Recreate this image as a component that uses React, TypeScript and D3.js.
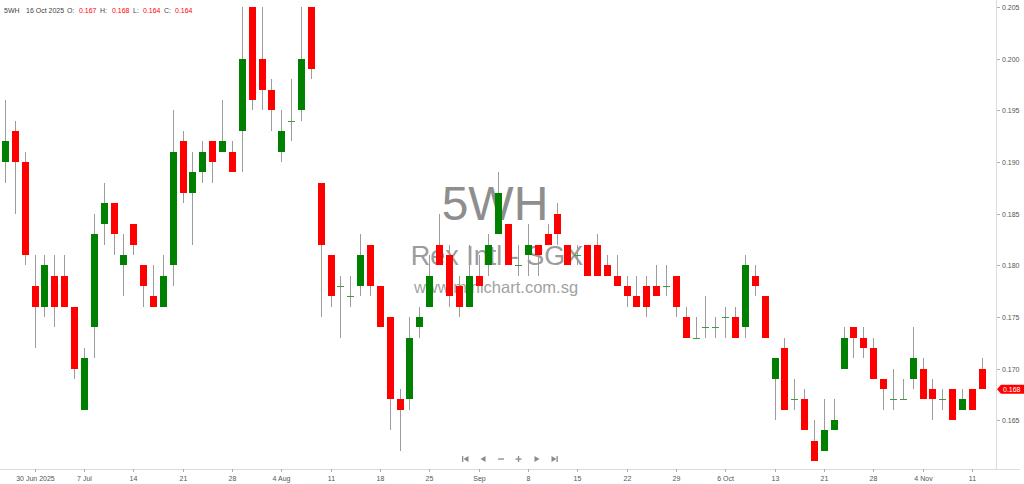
import React from "react";
import * as d3 from "d3";

const dates: string[] = [
  "2025-06-25", "2025-06-26", "2025-06-27", "2025-06-30",
  "2025-07-01", "2025-07-02", "2025-07-03", "2025-07-04",
  "2025-07-07", "2025-07-08", "2025-07-09", "2025-07-10", "2025-07-11",
  "2025-07-14", "2025-07-15", "2025-07-16", "2025-07-17", "2025-07-18",
  "2025-07-21", "2025-07-22", "2025-07-23", "2025-07-24", "2025-07-25",
  "2025-07-28", "2025-07-29", "2025-07-30", "2025-07-31", "2025-08-01",
  "2025-08-04", "2025-08-05", "2025-08-06", "2025-08-07", "2025-08-08",
  "2025-08-11", "2025-08-12", "2025-08-13", "2025-08-14", "2025-08-15",
  "2025-08-18", "2025-08-19", "2025-08-20", "2025-08-21", "2025-08-22",
  "2025-08-25", "2025-08-26", "2025-08-27", "2025-08-28", "2025-08-29",
  "2025-09-01", "2025-09-02", "2025-09-03", "2025-09-04", "2025-09-05",
  "2025-09-08", "2025-09-09", "2025-09-10", "2025-09-11", "2025-09-12",
  "2025-09-15", "2025-09-16", "2025-09-17", "2025-09-18", "2025-09-19",
  "2025-09-22", "2025-09-23", "2025-09-24", "2025-09-25", "2025-09-26",
  "2025-09-29", "2025-09-30", "2025-10-01", "2025-10-02", "2025-10-03",
  "2025-10-06", "2025-10-07", "2025-10-08", "2025-10-09", "2025-10-10",
  "2025-10-13", "2025-10-14", "2025-10-15", "2025-10-16", "2025-10-17",
  "2025-10-21", "2025-10-22", "2025-10-23", "2025-10-24",
  "2025-10-27", "2025-10-28", "2025-10-29", "2025-10-30", "2025-10-31",
  "2025-11-03", "2025-11-04", "2025-11-05", "2025-11-06", "2025-11-07",
  "2025-11-10", "2025-11-11", "2025-11-12",
];

const opens: number[] = [
  0.190, 0.193, 0.190, 0.178, 0.176, 0.179, 0.179, 0.176, 0.166, 0.174,
  0.184, 0.186, 0.180, 0.184, 0.180, 0.177, 0.176, 0.180, 0.192, 0.187,
  0.189, 0.192, 0.191, 0.191, 0.193, 0.207, 0.200, 0.197, 0.191, 0.194,
  0.195, 0.208, 0.188, 0.181, 0.178, 0.177, 0.178, 0.182, 0.178, 0.175,
  0.167, 0.167, 0.174, 0.176, 0.182, 0.181, 0.178, 0.176, 0.179, 0.180,
  0.183, 0.184, 0.180, 0.181, 0.182, 0.183, 0.185, 0.182, 0.181, 0.182,
  0.182, 0.180, 0.179, 0.178, 0.177, 0.178, 0.178, 0.178, 0.179, 0.175,
  0.173, 0.174, 0.174, 0.175, 0.175, 0.174, 0.179, 0.177, 0.169, 0.172,
  0.167, 0.167, 0.163, 0.162, 0.164, 0.170, 0.174, 0.173, 0.172, 0.169,
  0.167, 0.167, 0.169, 0.170, 0.168, 0.167, 0.168, 0.166, 0.168, 0.170,
];
const highs: number[] = [
  0.196, 0.194, 0.191, 0.181, 0.181, 0.181, 0.181, 0.176, 0.172, 0.185,
  0.188, 0.186, 0.183, 0.184, 0.180, 0.180, 0.181, 0.195, 0.193, 0.191,
  0.192, 0.192, 0.196, 0.192, 0.207, 0.208, 0.207, 0.198, 0.195, 0.198,
  0.207, 0.209, 0.188, 0.181, 0.179, 0.179, 0.183, 0.182, 0.178, 0.175,
  0.168, 0.175, 0.176, 0.181, 0.185, 0.182, 0.179, 0.182, 0.181, 0.183,
  0.189, 0.184, 0.182, 0.184, 0.182, 0.184, 0.186, 0.182, 0.182, 0.182,
  0.183, 0.181, 0.181, 0.179, 0.179, 0.179, 0.180, 0.180, 0.179, 0.176,
  0.175, 0.177, 0.175, 0.176, 0.176, 0.181, 0.180, 0.177, 0.171, 0.173,
  0.169, 0.168, 0.165, 0.167, 0.167, 0.174, 0.174, 0.174, 0.173, 0.169,
  0.170, 0.169, 0.174, 0.171, 0.169, 0.168, 0.168, 0.168, 0.168, 0.171,
];
const lows: number[] = [
  0.188, 0.185, 0.180, 0.172, 0.175, 0.174, 0.176, 0.169, 0.166, 0.171,
  0.182, 0.181, 0.177, 0.181, 0.176, 0.176, 0.176, 0.178, 0.186, 0.182,
  0.188, 0.188, 0.191, 0.189, 0.189, 0.195, 0.195, 0.193, 0.190, 0.192,
  0.194, 0.198, 0.175, 0.176, 0.173, 0.176, 0.177, 0.177, 0.174, 0.164,
  0.162, 0.166, 0.173, 0.176, 0.180, 0.176, 0.175, 0.176, 0.178, 0.179,
  0.183, 0.180, 0.179, 0.179, 0.179, 0.182, 0.182, 0.180, 0.180, 0.179,
  0.179, 0.179, 0.178, 0.176, 0.176, 0.175, 0.177, 0.177, 0.175, 0.173,
  0.173, 0.173, 0.173, 0.173, 0.173, 0.173, 0.177, 0.173, 0.165, 0.166,
  0.166, 0.164, 0.161, 0.162, 0.164, 0.170, 0.171, 0.171, 0.169, 0.166,
  0.166, 0.167, 0.168, 0.167, 0.165, 0.166, 0.165, 0.166, 0.166, 0.168,
];
const closes: number[] = [
  0.192, 0.190, 0.181, 0.176, 0.180, 0.176, 0.176, 0.170, 0.171, 0.183,
  0.186, 0.183, 0.181, 0.182, 0.178, 0.176, 0.179, 0.191, 0.187, 0.189,
  0.191, 0.190, 0.192, 0.189, 0.200, 0.196, 0.197, 0.195, 0.193, 0.194,
  0.200, 0.199, 0.182, 0.177, 0.178, 0.177, 0.181, 0.178, 0.174, 0.167,
  0.166, 0.173, 0.175, 0.179, 0.180, 0.177, 0.176, 0.179, 0.178, 0.182,
  0.187, 0.180, 0.180, 0.182, 0.181, 0.182, 0.183, 0.180, 0.181, 0.179,
  0.179, 0.179, 0.178, 0.177, 0.176, 0.176, 0.177, 0.178, 0.176, 0.173,
  0.173, 0.174, 0.174, 0.175, 0.173, 0.180, 0.178, 0.173, 0.171, 0.166,
  0.167, 0.164, 0.161, 0.164, 0.165, 0.173, 0.173, 0.172, 0.169, 0.168,
  0.167, 0.167, 0.171, 0.167, 0.167, 0.167, 0.165, 0.167, 0.166, 0.168,
];

const xTickLabels: string[] = [
  "30 Jun 2025", "7 Jul", "14", "21", "28", "4 Aug", "11", "18", "25", "Sep",
  "8", "15", "22", "29", "6 Oct", "13", "21", "28", "4 Nov", "11",
];
const xTickDates: string[] = [
  "2025-06-30", "2025-07-07", "2025-07-14", "2025-07-21", "2025-07-28",
  "2025-08-04", "2025-08-11", "2025-08-18", "2025-08-25", "2025-09-01",
  "2025-09-08", "2025-09-15", "2025-09-22", "2025-09-29", "2025-10-06",
  "2025-10-13", "2025-10-21", "2025-10-28", "2025-11-04", "2025-11-11",
];
const yTickValues: number[] = [0.165, 0.17, 0.175, 0.18, 0.185, 0.19, 0.195, 0.2, 0.205];

const symbol = "5WH";
const companyName = "Rex Intl - SGX";
const siteName = "www.minichart.com.sg";
const hoverDate = "2025-10-16";
const hoverLabel = "16 Oct 2025";

const W = 1024;
const H = 484;
const PLOT_TOP = 7;
const PLOT_BOTTOM = 469;
const AXIS_X = 996.5;
const FONT = "'Liberation Sans', Arial, sans-serif";
const GREEN = "#008000";
const RED = "#ff0000";
const WICK = "#9c9c9c";
const TEXT = "#555555";

export default function App() {
  const x = d3.scalePoint<string>().domain(dates).range([5, 981.7]);
  const y = d3.scaleLinear().domain([0.16, 0.205]).range([471.8, PLOT_TOP]);
  const bodyW = 7;
  const fmt = d3.format(".3f");

  const candles = dates.map((d, i) => ({
    d,
    o: opens[i],
    h: highs[i],
    l: lows[i],
    c: closes[i],
  }));

  const hi = dates.indexOf(hoverDate);
  const lastIdx = dates.length - 1;
  const lastC = closes[lastIdx];
  const lastUp = closes[lastIdx] >= opens[lastIdx];
  const yl = y(lastC);

  const navY = 459;
  const navColor = "#8a8a8a";

  return (
    <svg
      width={W}
      height={H}
      viewBox={`0 0 ${W} ${H}`}
      style={{ position: "fixed", left: 0, top: 0, background: "#fff", display: "block" }}
    >
      <defs>
        <clipPath id="plotClip">
          <rect x={0} y={PLOT_TOP} width={AXIS_X} height={PLOT_BOTTOM - PLOT_TOP} />
        </clipPath>
      </defs>
      <rect x={0} y={0} width={W} height={H} fill="#ffffff" />

      {/* watermark */}
      <g fontFamily={FONT} textAnchor="middle">
        <text x={495} y={220} fontSize={48} fill="#8e8e8e">{symbol}</text>
        <text x={497} y={265} fontSize={27} fill="#9c9c9c">{companyName}</text>
        <text x={496} y={293} fontSize={16.5} fill="#a2a2a2">{siteName}</text>
      </g>

      {/* candles */}
      <g clipPath="url(#plotClip)">
        {candles.map((k) => {
          const cx = Math.round(x(k.d) as number);
          const up = k.c >= k.o;
          const top = y(Math.max(k.o, k.c));
          const bot = y(Math.min(k.o, k.c));
          const doji = k.o === k.c;
          return (
            <g key={k.d}>
              <line
                x1={cx + 0.5}
                x2={cx + 0.5}
                y1={y(k.h)}
                y2={y(k.l)}
                stroke={WICK}
                strokeWidth={1}
                shapeRendering="crispEdges"
              />
              {doji ? (
                <line
                  x1={cx - bodyW / 2 + 0.5}
                  x2={cx + bodyW / 2 + 0.5}
                  y1={Math.round(top) + 0.5}
                  y2={Math.round(top) + 0.5}
                  stroke="#3f9a3f"
                  strokeWidth={1}
                  shapeRendering="crispEdges"
                />
              ) : (
                <rect
                  x={cx - 3}
                  y={Math.round(top)}
                  width={bodyW}
                  height={Math.round(bot) - Math.round(top)}
                  fill={up ? GREEN : RED}
                  shapeRendering="crispEdges"
                />
              )}
            </g>
          );
        })}
      </g>

      {/* axes lines */}
      <line x1={0} x2={1020} y1={PLOT_BOTTOM + 0.5} y2={PLOT_BOTTOM + 0.5} stroke="#dcdcdc" strokeWidth={1} shapeRendering="crispEdges" />
      <line x1={AXIS_X} x2={AXIS_X} y1={0} y2={PLOT_BOTTOM + 1} stroke="#dcdcdc" strokeWidth={1} shapeRendering="crispEdges" />

      {/* y axis */}
      <g fontFamily={FONT} fontSize={7} fill={TEXT}>
        {yTickValues.map((v) => {
          const yy = Math.round(y(v)) + 0.5;
          return (
            <g key={v}>
              <line x1={AXIS_X} x2={AXIS_X + 3} y1={yy} y2={yy} stroke="#b0b0b0" shapeRendering="crispEdges" />
              <text x={1002} y={yy + 2.5}>{fmt(v)}</text>
            </g>
          );
        })}
      </g>

      {/* x axis */}
      <g fontFamily={FONT} fontSize={7} fill={TEXT} textAnchor="middle">
        {xTickDates.map((d, i) => {
          const xx = Math.round(x(d) as number) + 0.5;
          return (
            <g key={d}>
              <line x1={xx} x2={xx} y1={PLOT_BOTTOM} y2={PLOT_BOTTOM + 3} stroke="#b0b0b0" shapeRendering="crispEdges" />
              <text x={xx} y={481}>{xTickLabels[i]}</text>
            </g>
          );
        })}
      </g>

      {/* last price tag */}
      <g>
        <path
          d={`M${AXIS_X + 0.5},${yl} L${1001},${yl - 4.5} L${1024},${yl - 4.5} L${1024},${yl + 4.5} L${1001},${yl + 4.5} Z`}
          fill={lastUp ? GREEN : RED}
        />
        <text x={1003} y={yl + 2.6} fontFamily={FONT} fontSize={7} fill="#ffffff">{fmt(lastC)}</text>
      </g>

      {/* header */}
      <g fontFamily={FONT} fontSize={7} fill="#444">
        <text x={4} y={13}>{symbol}</text>
        <text x={26} y={13}>{hoverLabel}</text>
        <text x={67} y={13}>O:</text>
        <text x={79} y={13} fill={RED}>{fmt(opens[hi])}</text>
        <text x={100} y={13}>H:</text>
        <text x={112} y={13} fill={RED}>{fmt(highs[hi])}</text>
        <text x={133} y={13}>L:</text>
        <text x={143} y={13} fill={RED}>{fmt(lows[hi])}</text>
        <text x={164} y={13}>C:</text>
        <text x={175} y={13} fill={RED}>{fmt(closes[hi])}</text>
      </g>

      {/* navigation icons */}
      <g fill={navColor} stroke="none">
        <rect x={462} y={navY - 3} width={1.3} height={6} />
        <path d={`M463.5,${navY} L468.5,${navY - 3} L468.5,${navY + 3} Z`} />
        <path d={`M480.5,${navY} L485.5,${navY - 3} L485.5,${navY + 3} Z`} />
        <rect x={498} y={navY - 0.6} width={6} height={1.3} />
        <rect x={515.5} y={navY - 0.6} width={6} height={1.3} />
        <rect x={517.9} y={navY - 3} width={1.3} height={6} />
        <path d={`M539.5,${navY} L534.5,${navY - 3} L534.5,${navY + 3} Z`} />
        <path d={`M556.5,${navY} L551.5,${navY - 3} L551.5,${navY + 3} Z`} />
        <rect x={556.5} y={navY - 3} width={1.3} height={6} />
      </g>
    </svg>
  );
}
